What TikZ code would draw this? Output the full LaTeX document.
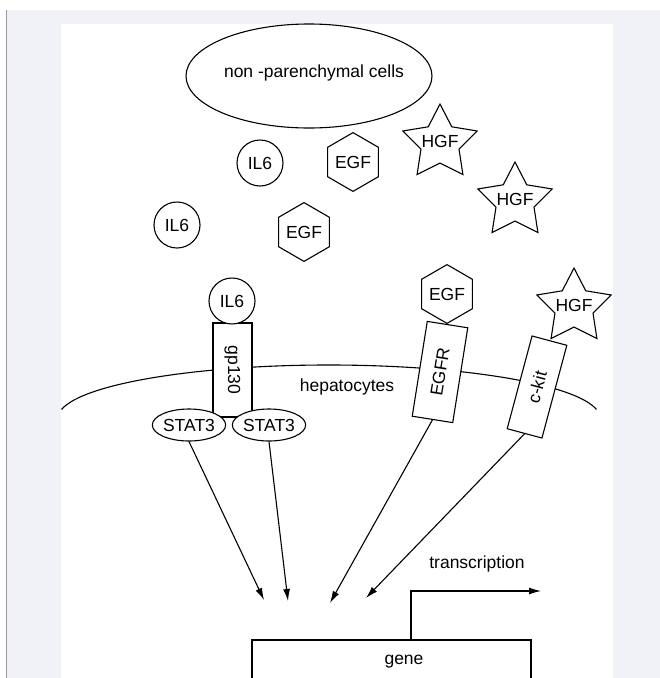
\documentclass[tikz,border=0pt]{standalone}
\usepackage{fontspec}
\setmainfont{Liberation Sans}
\usetikzlibrary{shapes.geometric,arrows.meta}

\definecolor{pagebg}{HTML}{F1F2F7}
\definecolor{rulegray}{HTML}{9A9A9A}

\tikzset{
    ligand/.style={draw, fill=white, inner sep=0pt},
    il6/.style={ligand, circle, minimum size=46pt},
    egf/.style={ligand, regular polygon, regular polygon sides=6, shape border rotate=30, minimum size=58pt},
    hgf/.style={ligand, star, star points=5, star point ratio=1.95, minimum size=78pt, label={[yshift=2pt]center:HGF}},
    receptor/.style={draw, fill=white, rectangle, inner sep=0pt},
    stat/.style={draw, fill=white, ellipse, inner sep=0pt, minimum width=72pt, minimum height=32pt},
    sig/.style={-{Latex[length=12pt,width=7pt]}}
}

\begin{document}
\begin{tikzpicture}[x=1pt, y=-1pt, line width=1.1pt, font=\fontsize{17.5}{21}\selectfont]

    \useasboundingbox (0,0) rectangle (660,678);

    \fill[pagebg] (7,10) rectangle (660,678);

    \draw[rulegray, line width=1pt] (6,10) -- (6,678);

    \fill[white] (61,24) rectangle (613,678);

    \node[draw, ellipse, inner sep=0pt, minimum width=246pt, minimum height=104pt,
        label={[xshift=5pt, yshift=3pt]center:non -parenchymal cells}] (npc) at (309,76) {};

    \node[il6] (il6a) at (260,163) {IL6};

    \node[il6] (il6c) at (177,225) {IL6};

    \node[egf] (egfa) at (353,162) {EGF};

    \node[egf] (egfc) at (304,232) {EGF};

    \node[hgf] (hgfa) at (440,143) {};

    \node[hgf] (hgfc) at (515,201) {};

    % cell membrane
    \draw (329,418) ++(189.3:271 and 53) arc[start angle=189.3, end angle=350.7, x radius=271, y radius=53];

    \node (hep) at (347,387) {hepatocytes};

    \node[receptor, rotate=-90, minimum width=94pt, minimum height=39pt] (gp) at (232.5,370) {gp130};

    \node[il6] (il6b) at (232,301) {IL6};

    \node[stat] (stata) at (189,425) {STAT3};

    \node[stat] (statb) at (269,425) {STAT3};

    \node[receptor, rotate=81, minimum width=96pt, minimum height=41pt] (egfr) at (440,372) {EGFR};

    \node[egf] (egfb) at (447,294) {EGF};

    \node[hgf] (hgfb) at (574,307) {};

    \node[receptor, rotate=75, minimum width=96pt, minimum height=36pt] (ckit) at (537,387) {c-kit};

    \node[draw, inner sep=0pt, minimum width=279pt, minimum height=46pt,
        label={[xshift=12.5pt, yshift=1pt]center:gene}] (gene) at (391.5,663) {};

    \coordinate (tipa) at (264,600);
    \coordinate (tipb) at (288,601);
    \coordinate (tipc) at (330,603);
    \coordinate (tipd) at (366,598);

    \draw[sig] (stata.south) -- (tipa);

    \draw[sig] (statb.south) -- (tipb);

    \draw[sig] (egfr.west) -- (tipc);

    \draw[sig] (ckit.west) -- (tipd);

    \coordinate (txturn) at (411,591);
    \coordinate (txend) at (541,591);

    \draw[sig] (gene.north -| txturn) -- (txturn) -- (txend);

    \node (tx) at (477,564) {transcription};

\end{tikzpicture}
\end{document}
